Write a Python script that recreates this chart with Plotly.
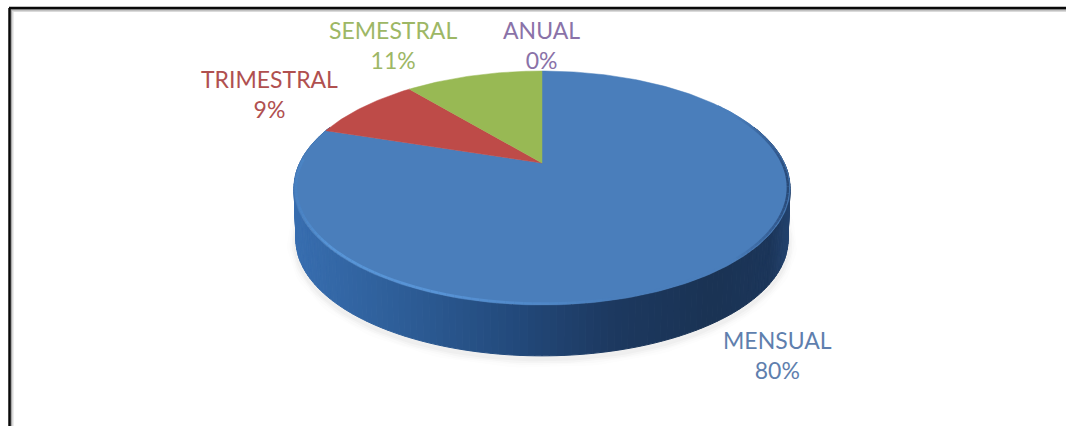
import numpy as np
import plotly.graph_objects as go

# Share of payment frequency
categories = ["MENSUAL", "TRIMESTRAL", "SEMESTRAL", "ANUAL"]
shares = [80, 9, 11, 0]
slice_colors = ["#4A7EBB", "#BE4B48", "#98B954", "#7D60A0"]
label_colors = ["#5F7FAE", "#B0504F", "#9DB765", "#8A72A8"]
label_anchor = [(777, 355), (269, 94), (393, 45), (541, 45)]

# Perspective disc, in the pixel units of the axes
apex_x, apex_y = 542, 163
far_extent, near_extent = 92, 142
half_width = 248
tilt = (near_extent - far_extent) / (near_extent + far_extent)
depth_scale = far_extent * (1 + tilt)
width_scale = half_width * np.sqrt(1 - tilt ** 2)
rim_height = 52
rim_shrink = 0.992


def project(theta, radius=1.0, drop=0.0, shrink=1.0):
    """Clockwise angle from twelve o'clock to a point of the tilted disc."""
    u, v = radius * np.sin(theta), radius * np.cos(theta)
    w = 1 + tilt * v
    return apex_x + shrink * width_scale * u / w, apex_y + drop - shrink * depth_scale * v / w


def ramp(x, stops):
    """Colour at horizontal position x along a list of (x, rgb) stops."""
    xs = [s[0] for s in stops]
    rgb = [np.interp(x, xs, [s[1][i] for s in stops]) for i in range(3)]
    return "rgb(%d,%d,%d)" % tuple(rgb)


rim_stops = [(294, (56, 110, 176)), (400, (46, 94, 152)), (513, (35, 74, 124)),
             (613, (29, 57, 96)), (713, (26, 51, 84)), (770, (28, 54, 90)), (791, (36, 68, 112))]
bevel_stops = [(294, (72, 128, 192)), (330, (88, 150, 216)), (440, (88, 148, 214)),
               (540, (80, 136, 200)), (620, (74, 126, 187)), (735, (74, 126, 187)), (775, (52, 92, 146)),
               (791, (38, 70, 114))]

fig = go.Figure()
arc_style = dict(mode="lines", hoverinfo="skip", showlegend=False)

# Soft shadow under the disc
front = np.radians(np.linspace(80, 280, 120))
sx, sy = project(front, drop=rim_height + 3, shrink=rim_shrink)
for width, alpha in [(18, 0.012), (13, 0.016), (9, 0.022), (5, 0.03)]:
    fig.add_trace(go.Scatter(x=sx, y=sy, line=dict(color=f"rgba(60,60,60,{alpha})", width=width), **arc_style))

# Outer wall of the disc, drawn as narrow shaded strips
edges = np.radians(np.linspace(70, 290, 161))
for a, b in zip(edges[:-1], edges[1:]):
    tx, ty = project(np.array([a, b]))
    bx, by = project(np.array([b, a]), drop=rim_height, shrink=rim_shrink)
    color = ramp((tx[0] + tx[1]) / 2, rim_stops)
    fig.add_trace(go.Scatter(x=[*tx, *bx, tx[0]], y=[*ty, *by, ty[0]], fill="toself", fillcolor=color,
                             line=dict(color=color, width=1), **arc_style))

# Slices of the top face, sized from the shares
start = 0.0
for name, share, color in zip(categories, shares, slice_colors):
    if share > 0:
        sweep = np.radians(np.linspace(start, start + share * 3.6, max(2, share * 4)))
        ax, ay = project(sweep)
        fig.add_trace(go.Scatter(x=[apex_x, *ax, apex_x], y=[apex_y, *ay, apex_y], fill="toself",
                                 fillcolor=color, line=dict(color=color, width=0.5), mode="lines",
                                 name=name, showlegend=False, hovertemplate=f"{name}: {share}%<extra></extra>"))
    start += share * 3.6

# Bevel along the outer edge of the top face
edges = np.radians(np.linspace(55, 272, 131))
for a, b in zip(edges[:-1], edges[1:]):
    ex, ey = project(np.array([a, b]), radius=0.992)
    fig.add_trace(go.Scatter(x=ex, y=ey, line=dict(color=ramp(ex.mean(), bevel_stops), width=2.5), **arc_style))

# Category labels with their percentages
for name, share, color, (lx, ly) in zip(categories, shares, label_colors, label_anchor):
    fig.add_annotation(x=lx, y=ly, text=f"{name}<br>{share}%", showarrow=False,
                       font=dict(family="Lato", size=23, color=color), align="center",
                       xanchor="center", yanchor="middle")

# Frame along the top and left of the picture, with its grey inner edge
for offset, width, color in [(3.0, 2, "#DADADA"), (1.5, 2, "#A8A8A8"), (0.0, 2.5, "#0A0A0A")]:
    fig.add_shape(type="line", x0=9, x1=1066, y0=8 + offset, y1=8 + offset, line=dict(color=color, width=width))
    fig.add_shape(type="line", x0=9.5 + offset, x1=9.5 + offset, y0=8, y1=426, line=dict(color=color, width=width))

fig.update_xaxes(range=[0, 1066], visible=False, fixedrange=True)
fig.update_yaxes(range=[426, 0], visible=False, fixedrange=True)
fig.update_layout(width=1066, height=426, margin=dict(l=0, r=0, t=0, b=0),
                  paper_bgcolor="white", plot_bgcolor="white")
fig.write_html("out.html")
